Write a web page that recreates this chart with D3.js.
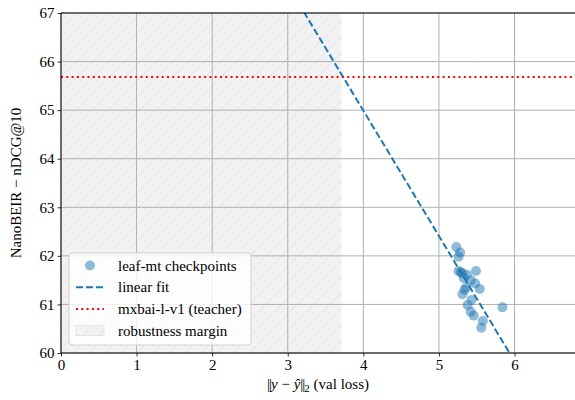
<!DOCTYPE html>
<html>
<head>
<meta charset="utf-8">
<script src="https://cdn.jsdelivr.net/npm/d3@7"></script>
<style>
  body { margin: 0; background: #fff; }
  svg text { font-family: "Liberation Serif", "Times New Roman", Times, serif !important; }
</style>
</head>
<body>
<div id="chart"></div>
<script>
// checkpoints: val loss vs NanoBEIR nDCG@10
const lossValues = [5.23, 5.28, 5.26, 5.26, 5.49, 5.31, 5.37, 5.33, 5.42, 5.48, 5.54,
                    5.34, 5.31, 5.43, 5.38, 5.84, 5.42, 5.46, 5.58, 5.56, 5.29, 5.36];
const ndcgValues = [62.18, 62.07, 61.98, 61.69, 61.69, 61.64, 61.61, 61.54, 61.50, 61.43, 61.32,
                    61.30, 61.21, 61.09, 60.99, 60.94, 60.85, 60.77, 60.66, 60.52, 61.66, 61.35];
const fitSlope = -2.58;
const fitIntercept = 75.31;
const teacherScore = 65.68;
const marginRange = [0, 3.71];
const xTicks = [0, 1, 2, 3, 4, 5, 6];
const yTicks = [60, 61, 62, 63, 64, 65, 66, 67];
const legendLabels = ["leaf-mt checkpoints", "linear fit", "mxbai-l-v1 (teacher)", "robustness margin"];

const points = lossValues.map((v, i) => ({loss: v, ndcg: ndcgValues[i]}));

const width = 575, height = 400;
const margin = {top: 13, right: 0, bottom: 47, left: 61};
const w = width - margin.left - margin.right;
const h = height - margin.top - margin.bottom;
const serif = "'Liberation Serif', 'Times New Roman', serif";
const fs = 15;

const svg = d3.select("#chart").append("svg")
    .attr("width", width)
    .attr("height", height)
    .attr("font-family", serif);

const defs = svg.append("defs");
const pat = defs.append("pattern")
    .attr("id", "hatch")
    .attr("patternUnits", "userSpaceOnUse")
    .attr("width", 16).attr("height", 16);
pat.append("rect").attr("width", 16).attr("height", 16).attr("fill", "#f2f2f2");
pat.append("path")
    .attr("d", "M-4,4 L4,-4 M0,16 L16,0 M12,20 L20,12")
    .attr("stroke", "#e0e0e0").attr("stroke-width", 1);
defs.append("clipPath").attr("id", "clip")
    .append("rect").attr("width", w).attr("height", h);

const g = svg.append("g").attr("transform", `translate(${margin.left},${margin.top})`);

const x = d3.scaleLinear().domain([0, 6.8]).range([0, w]);
const y = d3.scaleLinear().domain([60, 67]).range([h, 0]);

// robustness margin
g.append("rect")
    .attr("x", x(marginRange[0]))
    .attr("y", 0)
    .attr("width", x(marginRange[1]) - x(marginRange[0]))
    .attr("height", h)
    .attr("fill", "url(#hatch)");

// grid
g.append("g").selectAll("line").data(xTicks).enter().append("line")
    .attr("x1", d => x(d)).attr("x2", d => x(d))
    .attr("y1", 0).attr("y2", h)
    .attr("stroke", "#b0b0b0").attr("stroke-width", 1);
g.append("g").selectAll("line").data(yTicks).enter().append("line")
    .attr("y1", d => y(d)).attr("y2", d => y(d))
    .attr("x1", 0).attr("x2", w)
    .attr("stroke", "#b0b0b0").attr("stroke-width", 1);

const plot = g.append("g").attr("clip-path", "url(#clip)");

// points
plot.selectAll("circle")
    .data(points)
    .enter()
    .append("circle")
    .attr("cx", d => x(d.loss))
    .attr("cy", d => y(d.ndcg))
    .attr("r", 5)
    .attr("fill", "#1f77b4")
    .attr("fill-opacity", 0.5);

// linear fit
const fitLine = d3.line().x(d => x(d)).y(d => y(fitIntercept + fitSlope * d));
plot.append("path")
    .attr("d", fitLine([0, 6.8]))
    .attr("fill", "none")
    .attr("stroke", "#1f77b4")
    .attr("stroke-width", 2)
    .attr("stroke-dasharray", "7,3");

// teacher
plot.append("line")
    .attr("x1", 0).attr("x2", w)
    .attr("y1", y(teacherScore)).attr("y2", y(teacherScore))
    .attr("stroke", "red")
    .attr("stroke-width", 2)
    .attr("stroke-dasharray", "2,3.3");

// axes
const xAxis = d3.axisBottom(x).tickValues(xTicks).tickFormat(d3.format("d")).tickSize(3.5).tickPadding(3);
const yAxis = d3.axisLeft(y).tickValues(yTicks).tickFormat(d3.format("d")).tickSize(3.5).tickPadding(3);
const xa = g.append("g").attr("transform", `translate(0,${h})`).call(xAxis);
const ya = g.append("g").call(yAxis);
[xa, ya].forEach(a => {
    a.attr("font-family", serif).attr("font-size", fs);
    a.select(".domain").remove();
    a.selectAll("text").attr("fill", "#000");
    a.selectAll("line").attr("stroke", "#000").attr("stroke-width", 0.8);
});

// spines
g.append("line").attr("x1", 0).attr("x2", 0).attr("y1", 0).attr("y2", h)
    .attr("stroke", "#000").attr("stroke-width", 1);
g.append("line").attr("x1", 0).attr("x2", w).attr("y1", h).attr("y2", h)
    .attr("stroke", "#000").attr("stroke-width", 1);
g.append("line").attr("x1", 0).attr("x2", w).attr("y1", 0).attr("y2", 0)
    .attr("stroke", "#000").attr("stroke-width", 1);

// axis labels
const xl = svg.append("text")
    .attr("x", margin.left + x(3.4))
    .attr("y", 389)
    .attr("text-anchor", "middle")
    .attr("font-size", fs);
xl.append("tspan").attr("letter-spacing", -1).text("||");
xl.append("tspan").attr("font-style", "italic").text("y");
xl.append("tspan").text(" \u2212 ");
xl.append("tspan").attr("font-style", "italic").text("\u0177");
xl.append("tspan").attr("letter-spacing", -1).text("||");
xl.append("tspan").attr("font-size", 11).attr("dy", 3).text("2");
xl.append("tspan").attr("dy", -3).text(" (val loss)");

svg.append("text")
    .attr("transform", `translate(21,${margin.top + h / 2}) rotate(-90)`)
    .attr("text-anchor", "middle")
    .attr("font-size", fs)
    .text("NanoBEIR \u2212 nDCG@10");

// legend
const lg = g.append("g").attr("transform", `translate(8,240)`);
lg.append("rect")
    .attr("x", 0).attr("y", 0)
    .attr("width", 182).attr("height", 92)
    .attr("rx", 3)
    .attr("fill", "#fff").attr("fill-opacity", 0.8)
    .attr("stroke", "#d0d0d0");
const rowY = i => 12.5 + i * 21.7;
lg.append("circle").attr("cx", 21).attr("cy", rowY(0)).attr("r", 5)
    .attr("fill", "#1f77b4").attr("fill-opacity", 0.5);
lg.append("line").attr("x1", 7).attr("x2", 35).attr("y1", rowY(1)).attr("y2", rowY(1))
    .attr("stroke", "#1f77b4").attr("stroke-width", 2).attr("stroke-dasharray", "7,3");
lg.append("line").attr("x1", 7).attr("x2", 35).attr("y1", rowY(2)).attr("y2", rowY(2))
    .attr("stroke", "red").attr("stroke-width", 2).attr("stroke-dasharray", "2,3.3");
lg.append("rect").attr("x", 7).attr("y", rowY(3) - 5).attr("width", 28).attr("height", 10)
    .attr("fill", "url(#hatch)").attr("stroke", "#e0e0e0").attr("stroke-width", 0.8);
lg.selectAll("text.lbl").data(legendLabels).enter().append("text")
    .attr("class", "lbl")
    .attr("x", 49)
    .attr("y", (d, i) => rowY(i) + 5)
    .attr("font-size", fs)
    .text(d => d);
</script>
</body>
</html>
